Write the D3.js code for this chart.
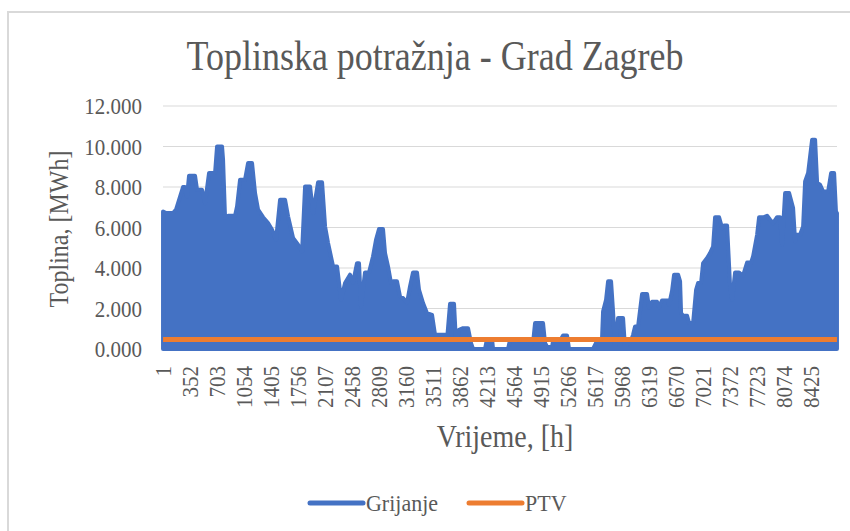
<!DOCTYPE html>
<html>
<head>
<meta charset="utf-8">
<script src="https://cdn.jsdelivr.net/npm/d3@7"></script>
<style>
  body { margin: 0; background: #fff; }
  text { font-family: "Liberation Serif", "Times New Roman", serif; fill: #595959; }
</style>
</head>
<body>
<div id="d3"></div>
<script>
///////////////////////////////////////////////////
//          DATA           //
///////////////////////////////////////////////////
// hour of the year and heating demand (outline of the hourly curve)
var hours = [1, 40, 131, 170, 261, 287, 313, 339, 417, 443,
  508, 547, 599, 677, 703, 768, 781, 807, 846, 937,
  963, 1002, 1067, 1106, 1158, 1197, 1236, 1301, 1366, 1418,
  1470, 1522, 1587, 1626, 1691, 1756, 1808, 1847, 1912, 1951,
  2016, 2068, 2107, 2146, 2211, 2263, 2315, 2367, 2431, 2470,
  2522, 2548, 2574, 2626, 2678, 2730, 2769, 2808, 2860, 2886,
  2925, 2964, 2990, 3042, 3081, 3120, 3172, 3211, 3250, 3302,
  3328, 3380, 3432, 3497, 3536, 3666, 3692, 3731, 3783, 3809,
  3848, 3900, 3965, 4004, 4030, 4186, 4212, 4277, 4290, 4485,
  4511, 4745, 4784, 4810, 4836, 4940, 4966, 4992, 5057, 5070,
  5161, 5200, 5252, 5278, 5590, 5642, 5707, 5720, 5759, 5785,
  5824, 5850, 5876, 5915, 5980, 6006, 6045, 6071, 6110, 6136,
  6175, 6227, 6292, 6318, 6357, 6422, 6448, 6487, 6565, 6578,
  6617, 6643, 6695, 6721, 6734, 6760, 6812, 6838, 6890, 6929,
  6955, 6994, 7020, 7072, 7111, 7150, 7176, 7228, 7267, 7293,
  7332, 7371, 7397, 7436, 7488, 7540, 7592, 7644, 7670, 7722,
  7748, 7813, 7852, 7891, 7930, 7982, 8021, 8047, 8086, 8138,
  8190, 8216, 8242, 8281, 8320, 8346, 8385, 8437, 8476, 8502,
  8541, 8580, 8645, 8684, 8723, 8748, 8760];

var grijanje = [6.79, 6.71, 6.71, 6.88, 8.00, 8.00, 7.53, 8.56, 8.56, 7.86,
  7.86, 7.20, 8.69, 8.69, 10.00, 10.00, 9.35, 6.47, 6.58, 6.58,
  7.04, 8.36, 8.36, 9.18, 9.18, 7.70, 6.88, 6.51, 6.22, 5.89,
  5.39, 7.37, 7.37, 6.55, 5.48, 5.15, 4.82, 8.03, 8.03, 6.71,
  8.23, 8.23, 6.05, 5.23, 4.08, 4.08, 2.43, 3.26, 3.67, 3.26,
  4.24, 4.24, 2.10, 3.78, 3.78, 4.57, 5.39, 5.92, 5.92, 4.74,
  4.08, 3.26, 3.34, 3.34, 2.59, 2.52, 2.27, 3.09, 3.78, 3.78,
  2.92, 2.27, 1.77, 1.69, 0.70, 0.70, 0.45, 2.23, 2.23, 0.29,
  0.95, 1.03, 1.03, 0.29, 0, 0, 0.50, 0.50, 0, 0,
  0.45, 0.40, 0.20, 0.30, 1.28, 1.28, 0.30, 0.10, 0.10, 0.40,
  0.40, 0.67, 0.67, 0, 0, 0.40, 0.55, 1.85, 2.43, 3.34,
  3.34, 1.85, 0, 1.53, 1.53, 0, 0.30, 0.30, 0.70, 1.11,
  1.11, 2.72, 2.72, 2.02, 2.33, 2.33, 2.06, 2.40, 2.40, 2.18,
  2.88, 3.67, 3.67, 3.34, 1.77, 1.64, 1.64, 1.28, 1.28, 2.92,
  3.26, 3.26, 4.24, 4.49, 4.74, 5.06, 6.51, 6.51, 5.97, 6.10,
  6.10, 3.09, 2.43, 3.78, 3.78, 3.62, 4.27, 4.27, 4.57, 5.64,
  6.51, 6.51, 6.58, 6.38, 6.22, 6.51, 6.51, 5.15, 7.70, 7.70,
  6.96, 5.31, 5.64, 5.64, 6.05, 8.28, 8.69, 10.33, 10.33, 8.20,
  8.11, 7.78, 7.78, 8.69, 8.69, 6.71, 6.71];

// hot water (PTV) is flat over the year
var ptvHours = [1, 8760];
var ptv = [0.47, 0.47];

var yTicks = [0, 2, 4, 6, 8, 10, 12];
var xTicks = [1, 352, 703, 1054, 1405, 1756, 2107, 2458, 2809, 3160, 3511, 3862, 4213,
  4564, 4915, 5266, 5617, 5968, 6319, 6670, 7021, 7372, 7723, 8074, 8425];

var seriesNames = ["Grijanje", "PTV"];
var seriesColors = ["#4472c4", "#ed7d31"];

///////////////////////////////////////////////////
//          SET UP SIZES                         //
///////////////////////////////////////////////////
var width = 850;
var height = 531;
var plot = {left: 163, right: 837, top: 106, bottom: 349};

var svg = d3.select("#d3")
  .append("svg")
  .attr("width", width)
  .attr("height", height);

// chart frame (runs off the right and bottom edge)
svg.append("rect")
  .attr("x", 8)
  .attr("y", 12)
  .attr("width", 870)
  .attr("height", 560)
  .attr("fill", "#fff")
  .attr("stroke", "#d9d9d9")
  .attr("stroke-width", 2);

var x = d3.scaleLinear()
  .domain([0.5, 8760.5])
  .range([plot.left, plot.right]);

var y = d3.scaleLinear()
  .domain([0, 12])
  .range([plot.bottom, plot.top]);

// Gridlines
svg.append("g")
  .selectAll("line")
  .data(yTicks.slice(1))
  .enter()
  .append("line")
  .attr("x1", plot.left)
  .attr("x2", plot.right)
  .attr("y1", d => y(d))
  .attr("y2", d => y(d))
  .attr("stroke", "#d9d9d9")
  .attr("stroke-width", 1);

// Y axis labels
var yAxis = svg.append("g")
  .attr("transform", `translate(${plot.left - 21},0)`)
  .call(d3.axisLeft(y).tickValues(yTicks).tickFormat(d3.format(".3f")).tickSize(0));
yAxis.select(".domain").remove();
yAxis.selectAll("text")
  .attr("x", 0)
  .attr("dy", "0.35em")
  .attr("transform", "scale(1,1.08)")
  .style("font-size", "21px")
  .style("font-family", "Liberation Serif")
  .attr("fill", "#595959");

// X axis line
svg.append("line")
  .attr("x1", plot.left)
  .attr("x2", plot.right)
  .attr("y1", y(0))
  .attr("y2", y(0))
  .attr("stroke", "#d9d9d9");

// X axis labels, rotated
svg.append("g")
  .selectAll("text")
  .data(xTicks)
  .enter()
  .append("text")
  .attr("transform", d => `translate(${x(d)},366) rotate(-90) scale(1,1.08)`)
  .attr("text-anchor", "end")
  .attr("dy", "0.35em")
  .style("font-size", "21px")
  .text(d => d);

///////////////////////////////////////////////////
//          SERIES                               //
///////////////////////////////////////////////////
var heat = hours.map((h, i) => ({hour: h, value: grijanje[i]}));
var hot = ptvHours.map((h, i) => ({hour: h, value: ptv[i]}));

var area = d3.area()
  .x(d => x(d.hour))
  .y0(y(0))
  .y1(d => y(d.value));

svg.append("path")
  .datum(heat)
  .attr("d", area)
  .attr("fill", seriesColors[0])
  .attr("stroke", seriesColors[0])
  .attr("stroke-width", 4)
  .attr("stroke-linejoin", "round");

var line = d3.line()
  .x(d => x(d.hour))
  .y(d => y(d.value));

svg.append("path")
  .datum(hot)
  .attr("d", line)
  .attr("fill", "none")
  .attr("stroke", seriesColors[1])
  .attr("stroke-width", 5);

///////////////////////////////////////////////////
//          TEXTS                                //
///////////////////////////////////////////////////
svg.append("text")
  .attr("transform", "translate(435,70) scale(1,1.18)")
  .attr("text-anchor", "middle")
  .style("font-size", "36px")
  .text("Toplinska potražnja - Grad Zagreb");

svg.append("text")
  .attr("transform", "translate(68,229) rotate(-90) scale(1,1.12)")
  .attr("text-anchor", "middle")
  .style("font-size", "24px")
  .text("Toplina, [MWh]");

svg.append("text")
  .attr("transform", "translate(505,447) scale(1,1.12)")
  .attr("text-anchor", "middle")
  .style("font-size", "28px")
  .text("Vrijeme, [h]");

// Legend
var legendX = [308, 467];
var legend = svg.append("g")
  .selectAll("g")
  .data(seriesNames)
  .enter()
  .append("g")
  .attr("transform", (d, i) => `translate(${legendX[i]},503)`);

legend.append("line")
  .attr("x1", 2)
  .attr("x2", 55)
  .attr("stroke", (d, i) => seriesColors[i])
  .attr("stroke-width", 5)
  .attr("stroke-linecap", "round");

legend.append("text")
  .attr("transform", "translate(58,8) scale(1,1.08)")
  .style("font-size", "22px")
  .text(d => d);
</script>
</body>
</html>
